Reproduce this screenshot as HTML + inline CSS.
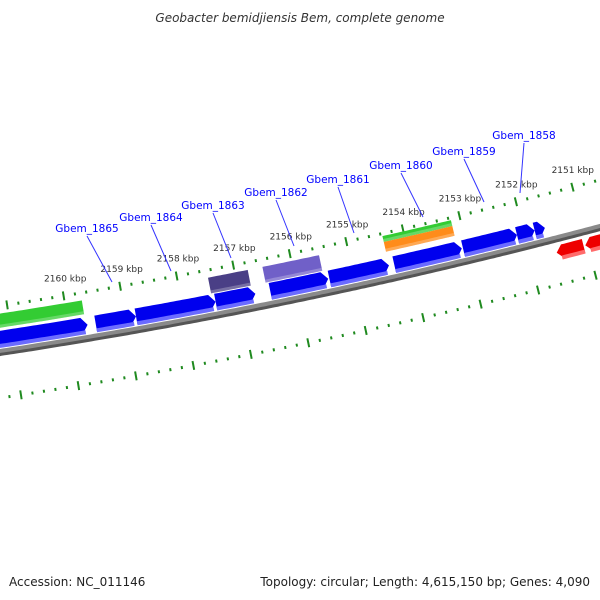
<!DOCTYPE html>
<html><head><meta charset="utf-8"><style>
body{margin:0;background:#fff}
svg{display:block;font-family:"DejaVu Sans","Liberation Sans",sans-serif}
</style></head><body>
<svg id="map" width="600" height="600" viewBox="0 0 600 600" xmlns="http://www.w3.org/2000/svg">
<rect width="600" height="600" fill="#fff"/>
<text x="300" y="22" text-anchor="middle" font-size="12" font-style="italic" fill="#333">Geobacter bemidjiensis Bem, complete genome</text>
<text x="9" y="586" font-size="12" fill="#222">Accession: NC_011146</text>
<text x="590" y="586" text-anchor="end" font-size="12" fill="#222">Topology: circular; Length: 4,615,150 bp; Genes: 4,090</text>
<g id="layer"></g>
</svg>
<script>
// data (kbp)
const tickStart = 2150, tickEnd = 2161.4, minorStep = 0.2;
const tickLabels = [2160,2159,2158,2157,2156,2155,2154,2153,2152,2151];
const geneNames = ["Gbem_1865","Gbem_1864","Gbem_1863","Gbem_1862","Gbem_1861","Gbem_1860","Gbem_1859","Gbem_1858"];
const geneStarts = [2161.6,2159.53,2158.82,2157.42,2156.46,2155.42,2154.28,2153.07,2152.12,2151.81];
const geneEnds   = [2159.67,2158.82,2157.42,2156.72,2155.44,2154.37,2153.09,2152.12,2151.81,2151.63];
const revStarts = [2151.54,2151.04];
const revEnds   = [2151.07,2150.60];
const featStarts = [2161.6,2157.47,2156.51,2154.37,2154.37];
const featEnds   = [2159.70,2156.77,2155.51,2153.16,2153.16];
const featColors = ["#33cc33","#4a3f86","#7060c8","#33cc33","#ff8c1a"];
const featTop    = [-38,-38,-38,-43,-37];
const featBot    = [-24,-22,-22,-37,-27];
const labelX = [87,151,213,276,338,401,464,524];
const labelY = [232,221,209,196,183,169,155,139];
const lineEndX = [112,171,231,294,354,423,484,520];
const lineEndY = [282,271,258,246,233,217,202,193];

const NS = "http://www.w3.org/2000/svg";
const layer = document.getElementById('layer');
function xOf(p){ return 71 + (2160 - p) * 57; }
function base(x){ return 352 - 0.1517*x - 9.44e-5*x*x; }
function slope(x){ return -0.1517 - 2*9.44e-5*x; }
function pt(x, off){ const m = slope(x), N = Math.sqrt(1+m*m); return [x + (-m)*off/N, base(x) + off/N]; }
function mk(tag, attrs){ const e = document.createElementNS(NS, tag); for (const k in attrs) e.setAttribute(k, attrs[k]); layer.appendChild(e); return e; }
function band(x1, x2, a, b, tip){
  const pts = [];
  const t = 6;
  const s = tip === -1 ? x1 + t : x1, e = tip === 1 ? x2 - t : x2;
  if (tip === -1) pts.push(pt(x1, (a+b)/2));
  for (let x = s; x <= e; x += 3) pts.push(pt(x, a));
  pts.push(pt(e, a));
  if (tip === 1) pts.push(pt(x2, (a+b)/2));
  const bot = [];
  for (let x = s; x <= e; x += 3) bot.push(pt(x, b));
  bot.push(pt(e, b));
  bot.reverse();
  return pts.concat(bot).map(p => p[0].toFixed(1)+','+p[1].toFixed(1)).join(' ');
}

// backbone
let e = mk('polygon', {points: band(-20, 620, 0, 4, 0), fill: '#555'});


e = mk('polygon', {points: band(-20, 620, -3, 1, 0), fill: '#8a8a8a'});



// ticks
for (let p = tickStart; p <= tickEnd + 1e-6; p += minorStep) {
  const x = xOf(p);
  const major = Math.abs(p - Math.round(p)) < 1e-6;
  [[-50,-41,-47,-44],[41,50,44,47]].forEach((r) => {
    const a = major ? r[0] : r[2], b = major ? r[1] : r[3];
    const p1 = pt(x, a), p2 = pt(x, b);
    const l = mk('line', {x1: p1[0], y1: p1[1], x2: p2[0], y2: p2[1], stroke: '#1f8a1f', 'stroke-width': 2});
    
    
  });
}
tickLabels.forEach(k => {
  const q = pt(xOf(k), -60);
  const t = mk('text', {x: q[0] + 4, y: q[1], 'text-anchor': 'middle', 'font-size': 9, fill: '#333'});
  t.textContent = k + ' kbp';
  
  
});

// features
featStarts.forEach((s, i) => {
  const f = mk('polygon', {points: band(xOf(s), xOf(featEnds[i]), featTop[i], featBot[i], 0), fill: featColors[i]});
  
  
  const h = mk('polygon', {points: band(xOf(s), xOf(featEnds[i]), featBot[i] - 3, featBot[i], 0), fill: '#ffffff', 'fill-opacity': 0.25});
  
  
});

// forward genes
geneStarts.forEach((s, i) => {
  const g = mk('polygon', {points: band(xOf(s), xOf(geneEnds[i]), -21, -5, 1), fill: '#0000ee'});
  
  
  const h = mk('polygon', {points: band(xOf(s), xOf(geneEnds[i]) - 3, -8, -4, 0), fill: '#6b6bff'});
  
  
});
// reverse genes
revStarts.forEach((s, i) => {
  const g = mk('polygon', {points: band(xOf(s), xOf(revEnds[i]), 7, 21, -1), fill: '#ee0000'});
  
  
  const h = mk('polygon', {points: band(xOf(s) + 4, xOf(revEnds[i]), 18, 22, 0), fill: '#ff6b6b'});
  
  
});

// gene labels
labelX.forEach((x, i) => {
  const l = mk('line', {x1: x, y1: labelY[i] + 4, x2: lineEndX[i], y2: lineEndY[i], stroke: '#3333ff', 'stroke-width': 1});
  
  
  const t = mk('text', {x: x, y: labelY[i], 'text-anchor': 'middle', 'font-size': 10.5, fill: '#0000ff'});
  t.textContent = geneNames[i];
  
  
});
</script>
</body></html>
